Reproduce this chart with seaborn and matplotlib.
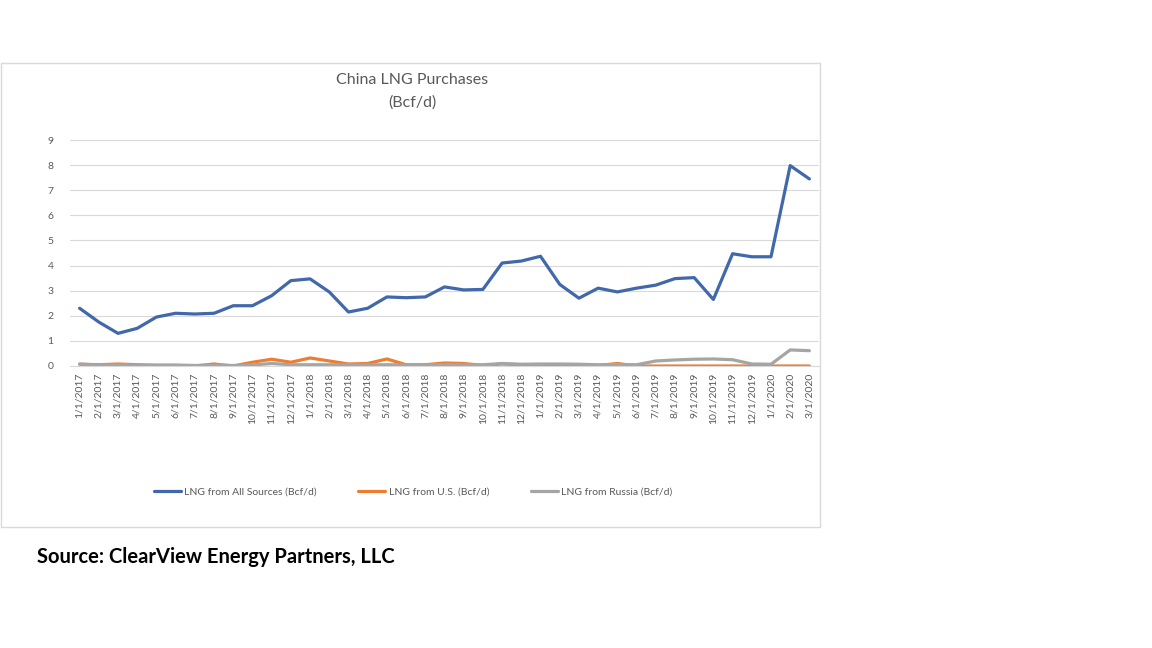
import numpy as np
import pandas as pd
import matplotlib
matplotlib.use("Agg")
import matplotlib.pyplot as plt
from matplotlib.patches import Rectangle
from matplotlib.ticker import FixedLocator
import seaborn as sns

months = ["1/1/2017", "2/1/2017", "3/1/2017", "4/1/2017", "5/1/2017", "6/1/2017",
          "7/1/2017", "8/1/2017", "9/1/2017", "10/1/2017", "11/1/2017", "12/1/2017",
          "1/1/2018", "2/1/2018", "3/1/2018", "4/1/2018", "5/1/2018", "6/1/2018",
          "7/1/2018", "8/1/2018", "9/1/2018", "10/1/2018", "11/1/2018", "12/1/2018",
          "1/1/2019", "2/1/2019", "3/1/2019", "4/1/2019", "5/1/2019", "6/1/2019",
          "7/1/2019", "8/1/2019", "9/1/2019", "10/1/2019", "11/1/2019", "12/1/2019",
          "1/1/2020", "2/1/2020", "3/1/2020"]

all_sources = [2.30, 1.75, 1.30, 1.50, 1.95, 2.10, 2.07, 2.10, 2.40, 2.40, 2.80, 3.40,
               3.47, 2.95, 2.15, 2.30, 2.75, 2.72, 2.75, 3.15, 3.03, 3.05, 4.10, 4.18,
               4.37, 3.25, 2.70, 3.10, 2.95, 3.10, 3.22, 3.48, 3.52, 2.65, 4.47, 4.35,
               4.35, 7.98, 7.45]

from_us = [0.07, 0.05, 0.08, 0.05, 0.03, 0.02, 0.00, 0.08, 0.00, 0.15, 0.27, 0.15,
           0.32, 0.20, 0.08, 0.10, 0.28, 0.05, 0.05, 0.12, 0.10, 0.02, 0.08, 0.05,
           0.05, 0.05, 0.05, 0.02, 0.10, 0.00, 0.00, 0.00, 0.00, 0.00, 0.00, 0.00,
           0.00, 0.00, 0.00]

from_russia = [0.08, 0.04, 0.05, 0.03, 0.03, 0.04, 0.02, 0.03, 0.02, 0.04, 0.10, 0.05,
               0.05, 0.05, 0.05, 0.05, 0.05, 0.05, 0.05, 0.06, 0.05, 0.05, 0.10, 0.07,
               0.08, 0.08, 0.07, 0.05, 0.06, 0.05, 0.20, 0.24, 0.27, 0.28, 0.25, 0.08,
               0.07, 0.64, 0.61]

series_names = ["LNG from All Sources (Bcf/d)", "LNG from U.S. (Bcf/d)", "LNG from Russia (Bcf/d)"]
series_colors = ["#4168AA", "#ED7D31", "#A5A5A5"]

idx = np.arange(len(months))
df = pd.concat([
    pd.DataFrame({"x": idx, "value": all_sources, "series": series_names[0]}),
    pd.DataFrame({"x": idx, "value": from_us, "series": series_names[1]}),
    pd.DataFrame({"x": idx, "value": from_russia, "series": series_names[2]}),
], ignore_index=True)

sns.set_theme(style="white")
plt.rcParams["font.family"] = ["Lato", "DejaVu Sans"]

W, H = 1152, 648
fig = plt.figure(figsize=(W / 100, H / 100), dpi=100)
fig.patch.set_facecolor("white")

# chart border
fig.patches.append(Rectangle((1 / W, 1 - 527 / H), 819 / W, 464 / H,
                             transform=fig.transFigure, fill=False,
                             edgecolor="#D9D9D9", linewidth=1.0, zorder=0))

ax = fig.add_axes([70 / W, 1 - 366 / H, 749 / W, 226 / H])
sns.lineplot(data=df, x="x", y="value", hue="series", hue_order=series_names,
             palette=series_colors, linewidth=2.3, sort=False, ax=ax, legend=False)

ax.set_xlim(-0.5, len(months) - 0.5)
ax.set_ylim(0, 9)
ax.set_yticks(range(0, 10))
ax.set_yticklabels([str(v) for v in range(0, 10)], fontsize=7.5, color="#595959")
ax.tick_params(axis="y", length=0, pad=12)
ax.yaxis.grid(True, color="#D9D9D9", linewidth=0.8)
ax.xaxis.grid(False)
ax.set_xticks(idx)
ax.set_xticklabels(months, rotation=90, fontsize=7.5, color="#595959")
ax.tick_params(axis="x", which="major", length=0, pad=5)
ax.xaxis.set_minor_locator(FixedLocator(np.arange(-0.5, len(months), 1.0)))
ax.tick_params(axis="x", which="minor", length=4, color="#D9D9D9", width=0.8)
for s in ["top", "right", "left"]:
    ax.spines[s].set_visible(False)
ax.spines["bottom"].set_color("#D9D9D9")
ax.spines["bottom"].set_linewidth(0.8)
ax.set_xlabel("")
ax.set_ylabel("")

fig.text(412 / W, 1 - 80 / H, "China LNG Purchases", ha="center", va="center",
         fontsize=11.5, color="#595959")
fig.text(412 / W, 1 - 103 / H, "(Bcf/d)", ha="center", va="center",
         fontsize=11.5, color="#595959")

handles = ax.get_lines()[:3]
fig.legend(handles, series_names, loc="center", bbox_to_anchor=(413 / W, 1 - 492 / H),
           ncol=3, frameon=False, fontsize=7.5, handlelength=2.6, handletextpad=0.3,
           columnspacing=4.0, labelcolor="#595959")

fig.text(37 / W, 1 - 557 / H, "Source: ClearView Energy Partners, LLC", ha="left",
         va="center", fontsize=14.5, fontweight="bold", color="black")

fig.savefig("out.png", dpi=100, facecolor="white")
